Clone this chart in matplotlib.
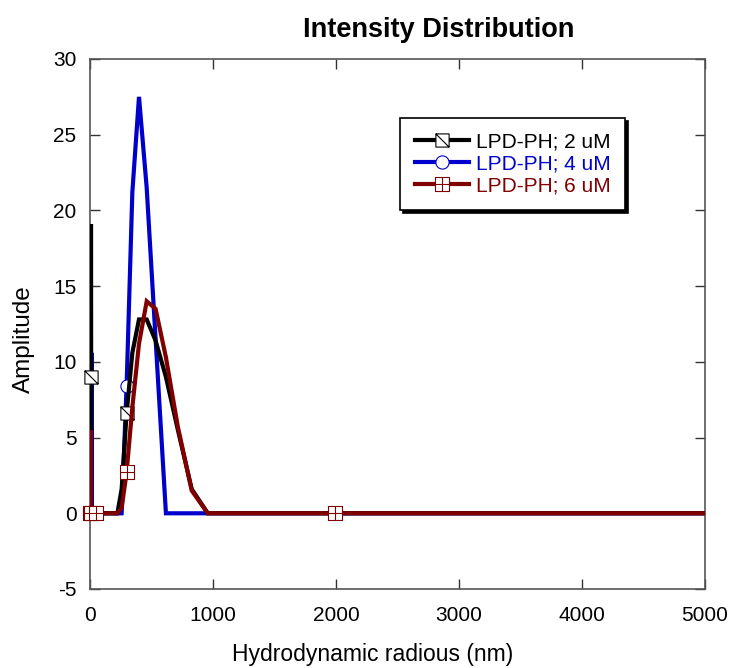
import matplotlib
matplotlib.use("Agg")
import matplotlib.pyplot as plt
from matplotlib.path import Path
from matplotlib.lines import Line2D

plt.rcParams['font.family'] = ['Liberation Sans', 'DejaVu Sans']
plt.rcParams['axes.unicode_minus'] = False

# Size bins (nm)
size_nm = [0.4, 0.4632, 0.5365, 0.6213, 0.7195, 0.8332, 0.9649, 1.117, 1.294, 1.499,
           1.736, 2.010, 2.328, 2.696, 3.122, 3.615, 4.187, 4.849, 5.615, 6.503,
           7.531, 8.721, 10.10, 11.70, 13.54, 15.69, 18.17, 21.04, 24.36, 28.21,
           32.67, 37.84, 43.82, 50.75, 58.77, 68.06, 78.82, 91.28, 105.7, 122.4,
           141.8, 164.2, 190.1, 220.2, 255.0, 295.3, 342.0, 396.1, 458.7, 531.2,
           615.1, 712.4, 825.0, 955.4, 1106, 1281, 1484, 1718, 1990, 2305,
           2669, 3091, 3580, 4145, 4801, 5560, 6439, 7456, 8635, 10000]

amp_2uM = [0, 0, 0, 0, 0, 0, 0, 0, 0, 0,
           0, 0, 0, 0, 0, 0, 0, 0, 19.1, 9.0,
           0, 0, 0, 0, 0, 0, 0, 0, 0, 0,
           0, 0, 0, 0, 0, 0, 0, 0, 0, 0,
           0, 0, 0, 0, 1.6, 6.6, 10.6, 12.8, 12.8, 11.4,
           9.0, 5.5, 1.6, 0, 0, 0, 0, 0, 0, 0,
           0, 0, 0, 0, 0, 0, 0, 0, 0, 0]

amp_4uM = [0, 0, 0, 0, 0, 0, 0, 0, 0, 0,
           0, 0, 0, 0, 0, 0, 0, 0, 0, 0,
           0, 0, 10.6, 0, 0, 0, 0, 0, 0, 0,
           0, 0, 0, 0, 0, 0, 0, 0, 0, 0,
           0, 0, 0, 0, 0, 8.4, 21.2, 27.5, 21.5, 11.5,
           0, 0, 0, 0, 0, 0, 0, 0, 0, 0,
           0, 0, 0, 0, 0, 0, 0, 0, 0, 0]

amp_6uM = [0, 0, 0, 0, 0, 0, 0, 0, 0, 0,
           0, 0, 5.5, 0, 0, 0, 0, 0, 0, 0,
           0, 0, 0, 0, 0, 0, 0, 0, 0, 0,
           0, 0, 0, 0, 0, 0, 0, 0, 0, 0,
           0, 0, 0, 0, 0.35, 2.7, 7.0, 11.2, 14.0, 13.5,
           10.3, 5.7, 1.5, 0, 0, 0, 0, 0, 0, 0,
           0, 0, 0, 0, 0, 0, 0, 0, 0, 0]

labels = ['LPD-PH; 2 uM', 'LPD-PH; 4 uM', 'LPD-PH; 6 uM']
colors = ['#000000', '#0000CC', '#800000']

sq_diag = Path([(-1, -1), (1, -1), (1, 1), (-1, 1), (-1, -1), (-1, 1), (1, -1)],
               [Path.MOVETO, Path.LINETO, Path.LINETO, Path.LINETO, Path.CLOSEPOLY,
                Path.MOVETO, Path.LINETO])
sq_cross = Path([(-1, -1), (1, -1), (1, 1), (-1, 1), (-1, -1),
                 (0, -1), (0, 1), (-1, 0), (1, 0)],
                [Path.MOVETO, Path.LINETO, Path.LINETO, Path.LINETO, Path.CLOSEPOLY,
                 Path.MOVETO, Path.LINETO, Path.MOVETO, Path.LINETO])
markers = [sq_diag, 'o', sq_cross]
zorders = [3, 2, 4]
series = [amp_2uM, amp_4uM, amp_6uM]

fig = plt.figure(figsize=(7.30, 6.68), dpi=100)
ax = fig.add_axes([90.3 / 730, 1 - 589 / 668, (705 - 90.3) / 730, (589 - 59) / 668])

ms = 9.5
for y, c, m, z in zip(series, colors, markers, zorders):
    ax.plot(size_nm, y, color=c, lw=3, zorder=z, solid_joinstyle='miter')
    ax.plot(size_nm[6::13], y[6::13], ls='none', marker=m, ms=ms,
            mfc='white', mec=c, mew=0.8, zorder=z + 0.5, clip_on=False)

ax.set_xlim(0, 5000)
ax.set_ylim(-5, 30)
ax.set_xticks([0, 1000, 2000, 3000, 4000, 5000])
ax.set_yticks([-5, 0, 5, 10, 15, 20, 25, 30])
ax.tick_params(direction='in', length=7, width=1, top=True, right=True,
               labelsize=15, color='#333333')
ax.tick_params(axis='x', pad=12)
ax.tick_params(axis='y', pad=10)
for s in ax.spines.values():
    s.set_color('#555555')
    s.set_linewidth(1.2)

ax.set_xlabel('Hydrodynamic radious (nm)', fontsize=16.5)
ax.xaxis.set_label_coords(0.459, -0.102)
ax.set_ylabel('Amplitude', fontsize=17.5)
ax.yaxis.set_label_coords(-0.0905, 0.472)
ax.set_title('Intensity Distribution', fontsize=19.5, fontweight='bold', pad=16, x=0.566)

handles = [Line2D([], [], color=c, lw=3, marker=m, ms=ms, mfc='white', mec=c, mew=0.8)
           for c, m in zip(colors, markers)]
leg = ax.legend(handles, labels, loc='upper left', bbox_to_anchor=(0.504, 0.889),
                borderaxespad=0, fontsize=15, fancybox=False, handlelength=2.6,
                handletextpad=0.35, labelspacing=0.14, borderpad=0.7,
                shadow={'color': 'black', 'alpha': 1.0}, framealpha=1)
leg.get_frame().set_edgecolor('black')
leg.get_frame().set_linewidth(1.2)
for t, c in zip(leg.get_texts(), colors):
    t.set_color(c)

fig.savefig('out.png', dpi=100)
